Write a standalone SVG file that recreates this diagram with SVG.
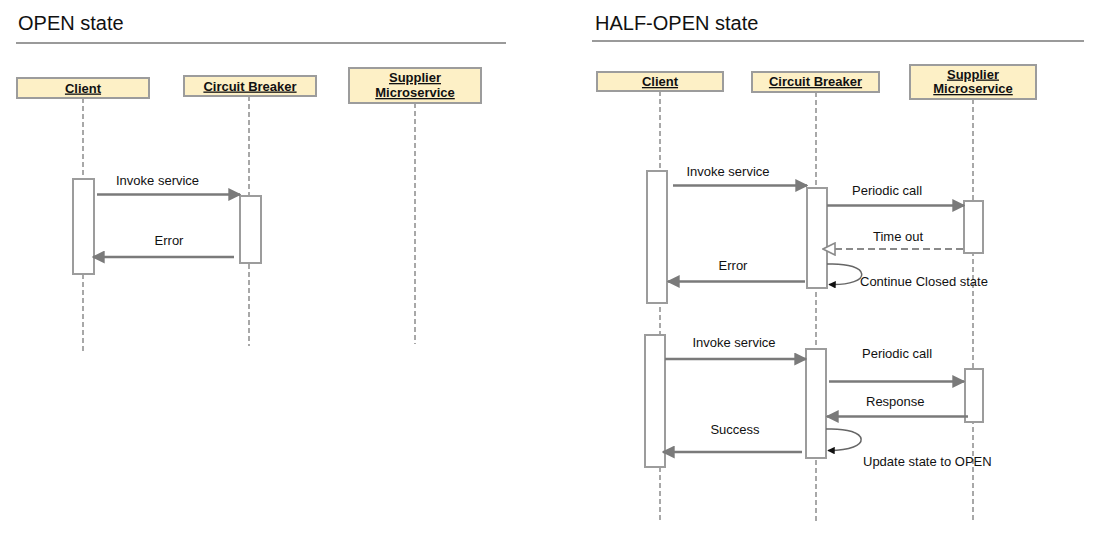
<svg xmlns="http://www.w3.org/2000/svg" width="1093" height="538" viewBox="0 0 1093 538">
<style>
.title{font-family:"Liberation Sans",Arial,sans-serif;font-size:20px;fill:#111}
.rule{stroke:#9a9a9a;stroke-width:2}
.box{fill:#fdf0c6;stroke:#9c9c9c;stroke-width:2}
.bl{font-family:"Liberation Sans",Arial,sans-serif;font-size:13px;font-weight:bold;fill:#111;text-anchor:middle;text-decoration:underline}
.life{stroke:#a8a8a8;stroke-width:2;stroke-dasharray:5 3;fill:none}
.act{fill:#fff;stroke:#9c9c9c;stroke-width:2}
.msg{stroke:#7a7a7a;stroke-width:2.5;fill:none}
.dash{stroke:#8a8a8a;stroke-width:2;fill:none;stroke-dasharray:7 4}
.loop{stroke:#666;stroke-width:1.5;fill:none}
.lab{font-family:"Liberation Sans",Arial,sans-serif;font-size:13px;fill:#111}
.c{text-anchor:middle}
</style>
<defs>
<marker id="ah" viewBox="0 0 10 10" refX="9" refY="5" markerWidth="5.2" markerHeight="5.2" markerUnits="strokeWidth" orient="auto"><path d="M0,0 L10,5 L0,10 z" fill="#7a7a7a"/></marker>
<marker id="oh" viewBox="0 0 14 14" refX="13" refY="7" markerWidth="14" markerHeight="14" markerUnits="userSpaceOnUse" orient="auto"><path d="M1,1 L13,7 L1,13 z" fill="#fff" stroke="#8a8a8a" stroke-width="1.6"/></marker>
<marker id="sh" viewBox="0 0 10 10" refX="9" refY="5" markerWidth="5" markerHeight="5" markerUnits="strokeWidth" orient="auto"><path d="M0,0 L10,5 L0,10 z" fill="#111"/></marker>
</defs>

<!-- OPEN state panel -->
<text class="title" x="18" y="30">OPEN state</text>
<line class="rule" x1="16" y1="43" x2="506" y2="43"/>

<g id="open-lifelines">
<line class="life" x1="83" y1="98" x2="83" y2="353"/>
<line class="life" x1="249" y1="96" x2="249" y2="346"/>
<line class="life" x1="415" y1="103" x2="415" y2="344"/>
</g>
<g id="open-client"><rect class="box" x="17" y="78" width="132" height="20"/><text class="bl" x="83" y="92.5">Client</text></g>
<g id="open-cb"><rect class="box" x="184" y="76" width="132" height="20"/><text class="bl" x="250" y="90.5">Circuit Breaker</text></g>
<g id="open-supplier"><rect class="box" x="349" y="68" width="132" height="35"/><text class="bl" x="415" y="82">Supplier</text><text class="bl" x="415" y="97">Microservice</text></g>
<g id="open-acts">
<rect class="act" x="73" y="179" width="21" height="95"/>
<rect class="act" x="240" y="196" width="21" height="67"/>
</g>
<g id="open-connectors">
<line class="msg" x1="97" y1="194.5" x2="240" y2="194.5" marker-end="url(#ah)"/>
<text class="lab" x="116" y="185">Invoke service</text>
<line class="msg" x1="234" y1="257" x2="93" y2="257" marker-end="url(#ah)"/>
<text class="lab c" x="169" y="245">Error</text>
</g>

<!-- HALF-OPEN state panel -->
<text class="title" x="595" y="30">HALF-OPEN state</text>
<line class="rule" x1="592" y1="41" x2="1084" y2="41"/>

<g id="half-lifelines">
<line class="life" x1="660" y1="91" x2="660" y2="523"/>
<line class="life" x1="816" y1="92" x2="816" y2="523"/>
<line class="life" x1="973" y1="99" x2="973" y2="523"/>
</g>
<g id="half-client"><rect class="box" x="597" y="72" width="126" height="19"/><text class="bl" x="660" y="86">Client</text></g>
<g id="half-cb"><rect class="box" x="752" y="72" width="127" height="20"/><text class="bl" x="815.5" y="86">Circuit Breaker</text></g>
<g id="half-supplier"><rect class="box" x="910" y="65" width="126" height="34"/><text class="bl" x="973" y="78.5">Supplier</text><text class="bl" x="973" y="93">Microservice</text></g>
<g id="half-acts">
<rect class="act" x="647" y="171" width="20" height="132"/>
<rect class="act" x="807" y="188" width="20" height="100"/>
<rect class="act" x="964" y="201" width="19" height="52"/>
<rect class="act" x="645" y="335" width="20" height="132"/>
<rect class="act" x="806" y="349" width="20" height="109"/>
<rect class="act" x="965" y="369" width="18" height="53"/>
</g>
<g id="half-connectors">
<line class="msg" x1="673" y1="185.5" x2="807" y2="185.5" marker-end="url(#ah)"/>
<text class="lab c" x="728" y="176">Invoke service</text>
<line class="msg" x1="827" y1="205.5" x2="964" y2="205.5" marker-end="url(#ah)"/>
<text class="lab" x="852" y="195">Periodic call</text>
<line class="dash" x1="963" y1="249" x2="823" y2="249" marker-end="url(#oh)"/>
<text class="lab" x="873" y="241">Time out</text>
<path class="loop" d="M827,264 C872,262 874,286 829,284.5" marker-end="url(#sh)"/>
<text class="lab" x="860" y="286">Continue Closed state</text>
<line class="msg" x1="805" y1="281.5" x2="668" y2="281.5" marker-end="url(#ah)"/>
<text class="lab c" x="733" y="270">Error</text>

<line class="msg" x1="665" y1="359" x2="806" y2="359" marker-end="url(#ah)"/>
<text class="lab c" x="734" y="347">Invoke service</text>
<line class="msg" x1="829" y1="381.5" x2="964" y2="381.5" marker-end="url(#ah)"/>
<text class="lab" x="862" y="358">Periodic call</text>
<line class="msg" x1="968" y1="416.5" x2="827" y2="416.5" marker-end="url(#ah)"/>
<text class="lab" x="866" y="406">Response</text>
<path class="loop" d="M826,429 C871,427 874,451 828,450.5" marker-end="url(#sh)"/>
<text class="lab" x="863" y="466">Update state to OPEN</text>
<line class="msg" x1="802" y1="452" x2="663" y2="452" marker-end="url(#ah)"/>
<text class="lab c" x="735" y="434">Success</text>
</g>
</svg>
